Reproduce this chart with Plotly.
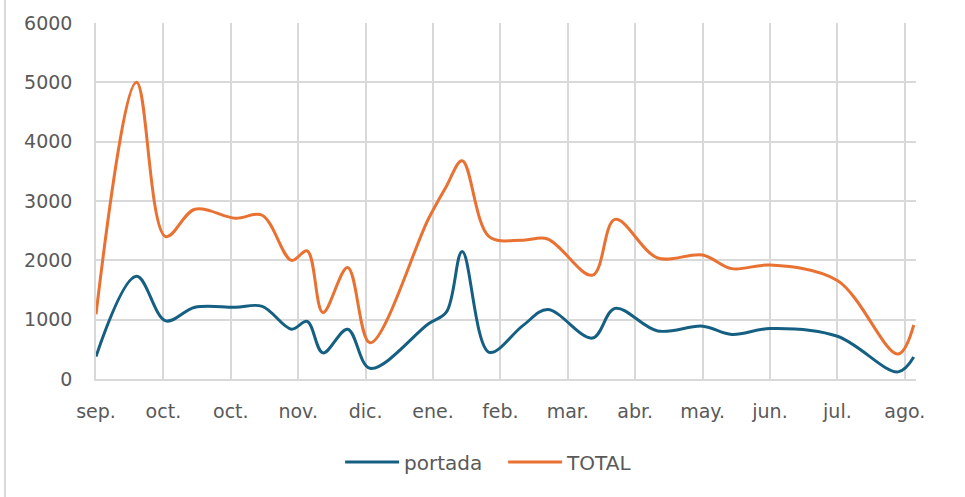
import plotly.graph_objects as go

# Fechas de cada registro y valores de las dos series
fechas = [
    "2022-09-01", "2022-09-19", "2022-10-02", "2022-10-15", "2022-11-02",
    "2022-11-14", "2022-11-27", "2022-12-04", "2022-12-11", "2022-12-22",
    "2023-01-01", "2023-01-27", "2023-02-04", "2023-02-11", "2023-02-23",
    "2023-03-10", "2023-03-21", "2023-04-10", "2023-04-20", "2023-05-09",
    "2023-05-29", "2023-06-11", "2023-06-28", "2023-07-28", "2023-08-24",
    "2023-08-31",
]
portada = [380, 1730, 980, 1210, 1210, 1225, 840, 970, 440, 840, 180, 930, 1130,
           2150, 450, 900, 1170, 690, 1190, 810, 890, 750, 850, 720, 120, 370]
total = [1090, 5000, 2400, 2860, 2710, 2760, 2000, 2160, 1120, 1880, 610, 2700, 3250,
         3680, 2400, 2340, 2360, 1750, 2690, 2040, 2090, 1860, 1920, 1660, 420, 910]

# Marcas del eje de fechas (cada 30 días) y sus etiquetas
tick_fechas = [
    "2022-09-01", "2022-10-01", "2022-10-31", "2022-11-30", "2022-12-30",
    "2023-01-29", "2023-02-28", "2023-03-30", "2023-04-29", "2023-05-29",
    "2023-06-28", "2023-07-28", "2023-08-27",
]
tick_textos = ["sep.", "oct.", "oct.", "nov.", "dic.", "ene.", "feb.", "mar.",
               "abr.", "may.", "jun.", "jul.", "ago."]
y_ticks = [0, 1000, 2000, 3000, 4000, 5000, 6000]

AZUL = "#156082"
NARANJA = "#E97132"
GRIS_TEXTO = "#595959"
GRIS_REJILLA = "#D9D9D9"
FUENTE = "DejaVu Sans"

fig = go.Figure()
fig.add_trace(go.Scatter(
    x=fechas, y=portada, name="portada", mode="lines",
    line=dict(color=AZUL, width=3, shape="spline", smoothing=1),
))
fig.add_trace(go.Scatter(
    x=fechas, y=total, name="TOTAL", mode="lines",
    line=dict(color=NARANJA, width=3, shape="spline", smoothing=1),
))

fig.update_layout(
    width=965, height=497,
    margin=dict(l=96, r=49, t=23, b=118),
    paper_bgcolor="white", plot_bgcolor="white",
    font=dict(family=FUENTE, color=GRIS_TEXTO, size=19),
    showlegend=True,
    legend=dict(
        orientation="h", x=0.2977, xanchor="left", y=-0.233, yanchor="middle",
        font=dict(size=20, color=GRIS_TEXTO), itemwidth=54,
        entrywidth=94, entrywidthmode="pixels",
        bgcolor="rgba(0,0,0,0)",
    ),
    xaxis=dict(
        type="date", range=["2022-09-01", "2023-09-01"],
        tickmode="array", tickvals=tick_fechas, ticktext=tick_textos,
        showgrid=True, gridcolor=GRIS_REJILLA, gridwidth=1.5,
        showline=True, linecolor=GRIS_REJILLA, linewidth=1.5,
        zeroline=False, ticks="", ticklabelstandoff=14,
        tickfont=dict(size=19, color=GRIS_TEXTO),
    ),
    yaxis=dict(
        range=[0, 6000], tickmode="array", tickvals=y_ticks, tickformat="d",
        showgrid=True, gridcolor=GRIS_REJILLA, gridwidth=1.5,
        showline=True, linecolor=GRIS_REJILLA, linewidth=1.5,
        zeroline=False, ticks="", ticklabelstandoff=18,
        tickfont=dict(size=19, color=GRIS_TEXTO),
    ),
)

# Borde izquierdo del área del gráfico
fig.add_shape(
    type="line", xref="paper", yref="paper",
    x0=-0.111, x1=-0.111, y0=-0.34, y1=1.07,
    line=dict(color=GRIS_REJILLA, width=2),
)

fig.write_html("out.html")
